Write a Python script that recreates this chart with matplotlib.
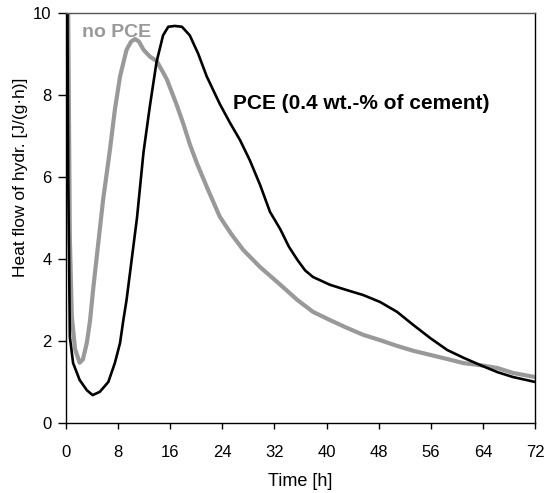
import matplotlib
matplotlib.use("Agg")
import matplotlib.pyplot as plt

plt.rcParams['font.family'] = ['Liberation Sans', 'DejaVu Sans']

# no PCE (gray)
t_ref = [0.3, 0.6, 0.9, 1.4, 2.1, 2.6, 3.2, 3.7, 4.2, 5.7, 6.75, 7.5, 8.3, 9.3, 10.0,
         10.6, 11.2, 11.9, 12.9, 13.9, 14.9, 15.5, 16.5, 17.0, 18.0, 19.0, 20.1,
         21.6, 23.6, 25.4, 27.2, 29.8, 32.9, 35.5, 37.9, 40.5, 43.1, 45.6, 48.2,
         50.8, 53.3, 55.9, 58.5, 61.0, 63.6, 66.2, 68.6, 72.0]
q_ref = [11.0, 4.5, 2.6, 1.8, 1.47, 1.55, 1.95, 2.5, 3.3, 5.44, 6.66, 7.63, 8.45, 9.1, 9.3,
         9.36, 9.3, 9.1, 8.93, 8.83, 8.55, 8.37, 7.96, 7.75, 7.3, 6.8, 6.33,
         5.76, 5.03, 4.6, 4.22, 3.8, 3.37, 3.0, 2.71, 2.51, 2.32, 2.15, 2.02,
         1.88, 1.76, 1.66, 1.56, 1.46, 1.41, 1.34, 1.22, 1.12]

# PCE 0.4 wt.-% (black)
t_pce = [0.2, 0.35, 0.6, 1.1, 2.1, 3.2, 4.1, 5.2, 6.5, 7.5, 8.3, 8.8, 9.3, 10.9, 11.9,
         12.9, 13.9, 14.9, 15.7, 16.7, 17.8, 19.0, 20.3, 21.6, 23.6, 25.2, 26.7,
         28.2, 29.8, 31.3, 32.9, 34.2, 35.5, 36.7, 37.9, 40.5, 43.1, 45.6, 48.2,
         50.8, 53.3, 55.9, 58.5, 61.0, 63.6, 66.2, 68.6, 72.0]
q_pce = [11.0, 6.0, 2.1, 1.46, 1.05, 0.8, 0.68, 0.76, 1.0, 1.46, 1.95, 2.5, 3.0, 5.0, 6.6,
         7.75, 8.8, 9.45, 9.66, 9.68, 9.66, 9.45, 9.0, 8.45, 7.78, 7.31, 6.9,
         6.41, 5.8, 5.15, 4.72, 4.3, 3.98, 3.72, 3.56, 3.37, 3.24, 3.12, 2.95,
         2.71, 2.39, 2.07, 1.78, 1.59, 1.41, 1.24, 1.12, 1.0]

xticks = list(range(0, 73, 8))
yticks = list(range(0, 11, 2))

fig = plt.figure(figsize=(5.45, 4.93), dpi=100)
ax = fig.add_axes([0.121, 0.142, 0.861, 0.832])

ax.plot(t_ref, q_ref, color="#999999", lw=3.0, solid_joinstyle='round')
ax.plot(t_pce, q_pce, color="black", lw=1.9, solid_joinstyle='round')

ax.text(2.4, 9.42, "no PCE", color="#999999", fontsize=14, fontweight='bold', va='baseline')
ax.text(25.6, 7.66, "PCE (0.4 wt.-% of cement)", color="black", fontsize=15,
        fontweight='bold', va='baseline')

ax.set_xlim(0, 72)
ax.set_ylim(0, 10)
ax.set_xticks(xticks)
ax.set_yticks(yticks)
ax.tick_params(axis='x', direction='out', length=4, width=1, pad=12, labelsize=12)
ax.tick_params(axis='y', direction='out', length=6, width=1, pad=4.3, labelsize=12)
for s in ax.spines.values():
    s.set_linewidth(1)
ax.spines['top'].set_color('#555555')
ax.set_xlabel("Time [h]", fontsize=13, labelpad=9)
ax.set_ylabel("Heat flow of hydr. [J/(g·h)]", fontsize=12.5)
ax.yaxis.set_label_coords(-0.08, 0.6)

fig.savefig("out.png", dpi=100)
